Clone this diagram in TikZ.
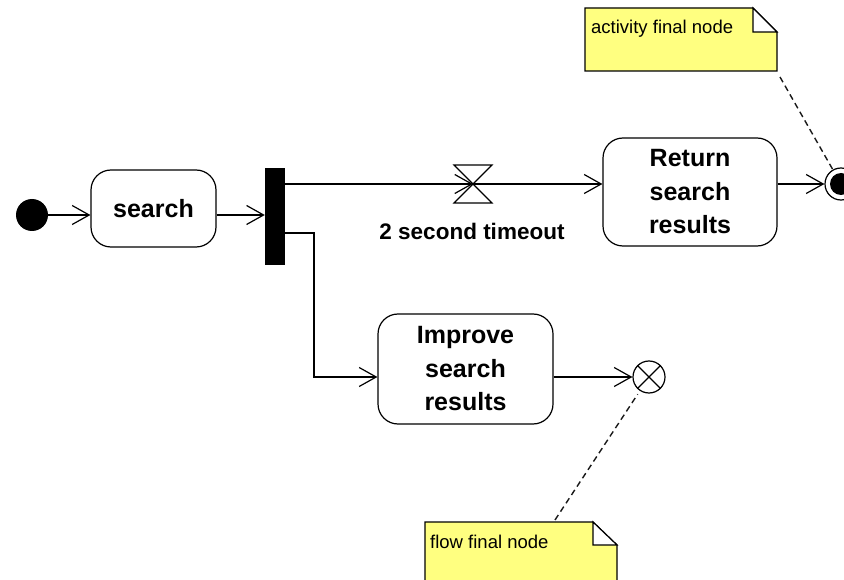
\documentclass[tikz,border=0pt]{standalone}
\usepackage{fontspec}
\setmainfont{Liberation Sans}
\usetikzlibrary{arrows.meta,calc}
\definecolor{noteyellow}{RGB}{255,255,128}
\tikzset{
  action/.style={draw, line width=1.2pt, rounded corners=20pt, inner sep=0pt, align=center,
    font=\fontsize{25}{33.5}\selectfont\bfseries},
  flow/.style={line width=1.2pt, -{Straight Barb[length=17pt,width=19pt,line width=1.2pt]}},
  plain/.style={line width=1.2pt},
  notebox/.style={draw, line width=1.2pt, fill=noteyellow},
  notetext/.style={font=\fontsize{18.5}{21}\selectfont, anchor=base west, inner sep=0pt},
  anchorline/.style={line width=1.4pt, dash pattern=on 6pt off 4pt, black!90},
}
\begin{document}
\begin{tikzpicture}[x=1pt,y=-1pt]
\useasboundingbox (0,0) rectangle (844,580);
% nodes
\node[fill=black, circle, minimum size=32pt, inner sep=0pt] (init) at (32,215) {};
\node[action, minimum width=125pt, minimum height=77pt] (search) at (153.5,208.5) {search};
\node[fill=black, minimum width=20pt, minimum height=97pt, inner sep=0pt] (fork) at (275,216.5) {};
\coordinate (timer) at (473,184);
\coordinate (up) at (0,184);
\coordinate (low) at (0,233);
\coordinate (bend1) at (314,233);
\coordinate (bend2) at (314,377);
\node[action, minimum width=174pt, minimum height=108pt] (ret) at (690,192) {Return\\search\\results};
\node[action, minimum width=175pt, minimum height=110pt] (imp) at (465.5,369) {Improve\\search\\results};
\node[draw, circle, line width=1.2pt, fill=white, minimum size=32pt, inner sep=0pt] (final) at (841,184) {};
\fill[black] (final.center) circle (11pt);
\node[draw, circle, line width=1.2pt, fill=white, minimum size=32pt, inner sep=0pt] (ff) at (649,377) {};
\draw[line width=1.2pt] (ff.north west) -- (ff.south east) (ff.north east) -- (ff.south west);
% hourglass
\draw[plain, line join=miter] (454,165) -- (492,165) -- (454,203) -- (492,203) -- cycle;
\node[font=\fontsize{22.5}{26}\selectfont\bfseries, anchor=base] (tlabel) at (472,240) {2 second timeout};
% connectors
\draw[flow] (init) -- (search.west |- init);
\draw[flow] (search.east |- init) -- (fork.west |- init);
\draw[flow] (fork.east |- up) -- (timer);
\draw[flow] (timer) -- (ret.west |- timer);
\draw[flow] (ret.east |- final) -- (final.west);
\draw[flow] (fork.east |- low) -- (bend1) -- (bend2) -- (imp.west |- bend2);
\draw[flow] (imp.east |- ff) -- (ff.west);
% note 1
\draw[notebox] (585,8) -- (753,8) -- (777,32) -- (777,71) -- (585,71) -- cycle;
\draw[line width=1.2pt, fill=white] (753,8) -- (777,32) -- (753,32) -- cycle;
\node[notetext] (n1) at (591,34) {activity final node};
\coordinate (n1a) at (780,77);
\draw[anchorline] (n1a) -- ($(final.center)!0.14!(n1a)$);
% note 2
\draw[notebox] (425,522) -- (593,522) -- (617,545) -- (617,590) -- (425,590) -- cycle;
\draw[line width=1.2pt, fill=white] (593,522) -- (617,545) -- (593,545) -- cycle;
\node[notetext] (n2) at (430,548) {flow final node};
\coordinate (n2a) at (555,520);
\draw[anchorline] (n2a) -- ($(ff.center)!0.12!(n2a)$);
\end{tikzpicture}
\end{document}
